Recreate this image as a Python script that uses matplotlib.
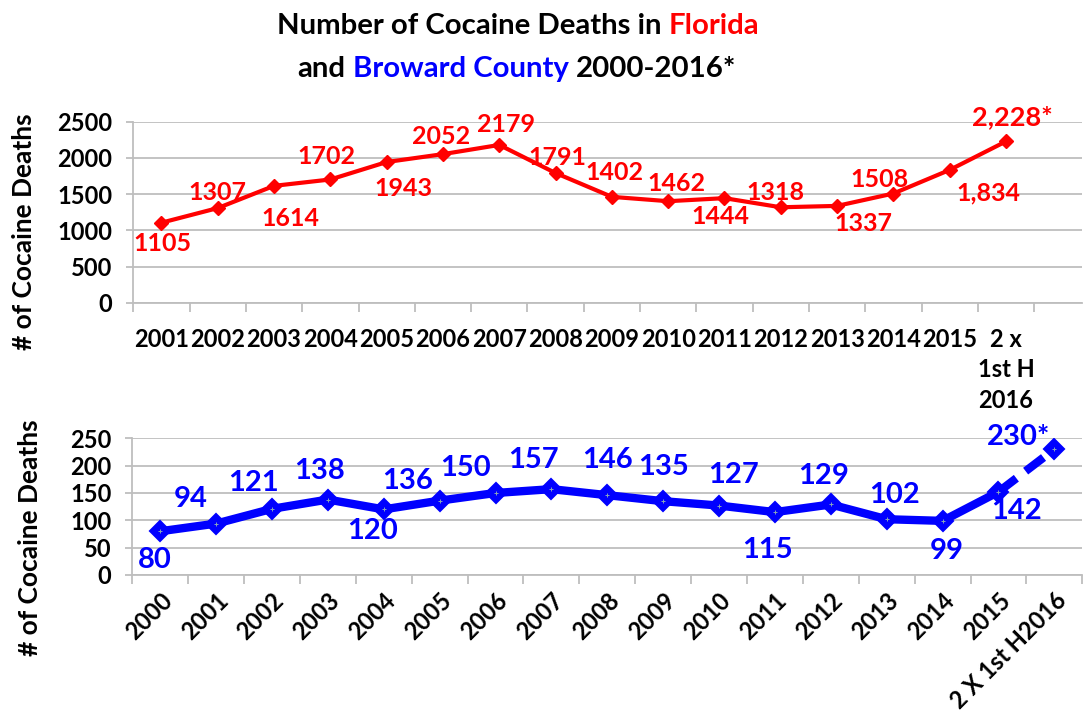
import matplotlib
matplotlib.use('Agg')
import matplotlib.pyplot as plt
import numpy as np

plt.rcParams['font.family'] = ['Lato', 'DejaVu Sans']
plt.rcParams['font.weight'] = 'bold'

# ---------------- data ----------------
fl_categories = ['2001', '2002', '2003', '2004', '2005', '2006', '2007', '2008',
                 '2009', '2010', '2011', '2012', '2013', '2014', '2015', '2 x\n1st H\n2016']
fl_values = [1105, 1307, 1614, 1702, 1943, 2052, 2179, 1791,
             1462, 1402, 1444, 1318, 1337, 1508, 1834, 2228]
fl_labels = ['1105', '1307', '1614', '1702', '1943', '2052', '2179', '1791',
             '1402', '1462', '1444', '1318', '1337', '1508', '1,834', '2,228*']

bw_categories = ['2000', '2001', '2002', '2003', '2004', '2005', '2006', '2007', '2008',
                 '2009', '2010', '2011', '2012', '2013', '2014', '2015', '2 X 1st H2016']
bw_values = [80, 94, 121, 138, 120, 136, 150, 157, 146, 135, 127, 115, 129, 102, 99, 152, 230]
bw_labels = ['80', '94', '121', '138', '120', '136', '150', '157', '146', '135', '127',
             '115', '129', '102', '99', '142', '230*']

# label offsets in pixels (dx, dy) relative to the point
fl_offsets = [(1, -21), (0, 16), (16, -33), (-4, 23), (17, -26), (-2, 18), (7, 20), (2, 16),
              (3, 24), (8, 18), (-4, -18), (-5, 15), (26, -18), (-14, 14), (39, -23), (6, 24)]
bw_offsets = [(-5, -29), (-25, 25), (-18, 26), (-8, 29), (-11, -22), (-32, 20), (-30, 25),
              (-18, 29), (0, 35), (0, 34), (14, 31), (-7, -38), (-7, 28), (8, 24), (4, -30),
              (18, -19), (-36, 12)]

RED = '#FF0000'
BLUE = '#0000FF'
GRID = '#BEBEBE'
W, H = 1084, 715
TICK_FS = 17

fig = plt.figure(figsize=(W / 100, H / 100), dpi=100)
ax1 = fig.add_axes([133.3 / W, 1 - 302.7 / H, (1082 - 133.3) / W, (302.7 - 121.7) / H])
ax2 = fig.add_axes([132.3 / W, 1 - 575 / H, (1082.3 - 132.3) / W, (575 - 438.3) / H])


def style(ax, n, ymax, step, xmax):
    ax.set_ylim(0, ymax)
    ax.set_yticks(np.arange(0, ymax + 1, step))
    ax.set_xlim(-0.5, xmax)
    ax.grid(axis='y', color=GRID, lw=1.3)
    ax.set_axisbelow(True)
    for s in ['top', 'right']:
        ax.spines[s].set_visible(False)
    for s in ['left', 'bottom']:
        ax.spines[s].set_color(GRID)
        ax.spines[s].set_linewidth(1.3)
    ax.tick_params(axis='y', length=5, color=GRID, width=1.3, pad=10,
                   labelsize=TICK_FS, labelcolor='black')
    ax.set_xticks(np.arange(-0.5, n, 1), minor=True)
    ax.tick_params(axis='x', which='minor', length=6.5, color=GRID, width=1.3)
    ax.tick_params(axis='x', which='major', length=0, labelsize=TICK_FS, labelcolor='black')


# ---------------- top: Florida ----------------
x1 = np.arange(len(fl_values))
style(ax1, len(fl_values), 2500, 500, 16.35)
ax1.plot(x1, fl_values, color=RED, lw=3, marker='D', ms=7.3, mew=1, mec=RED, zorder=3)
ax1.set_xticks(x1)
ax1.set_xticklabels(fl_categories, linespacing=1.4, va='top')
ax1.tick_params(axis='x', which='major', pad=18)
for i, (v, lab, off) in enumerate(zip(fl_values, fl_labels, fl_offsets)):
    size = 19.5 if i == len(fl_values) - 1 else 18
    ax1.annotate(lab, xy=(i, v), xytext=off, textcoords='offset pixels',
                 ha='center', va='center', color=RED, fontsize=size, fontweight='bold',
                 zorder=5)

# ---------------- bottom: Broward ----------------
x2 = np.arange(len(bw_values))
style(ax2, len(bw_values), 250, 50, 16.5)
ax2.plot(x2[:16], bw_values[:16], color=BLUE, lw=6, zorder=3, solid_joinstyle='round')
ax2.plot(x2[15:], bw_values[15:], color=BLUE, lw=6, ls=(0, (2.7, 1.4)), zorder=3)
ax2.plot(x2, bw_values, ls='none', marker='D', ms=10.5, mew=1.5, color=BLUE, mec=BLUE, zorder=4)
ax2.plot(x2, bw_values, ls='none', marker='+', ms=3, mew=0.7, color='#8aa6b8', zorder=5)
ax2.set_xticks(x2)
ax2.set_xticklabels(bw_categories, rotation=45, ha='right', va='top', rotation_mode='anchor')
ax2.tick_params(axis='x', which='major', pad=10)
for i, (v, lab, off) in enumerate(zip(bw_values, bw_labels, bw_offsets)):
    ax2.annotate(lab, xy=(i, v), xytext=off, textcoords='offset pixels',
                 ha='center', va='center', color=BLUE, fontsize=21, fontweight='bold',
                 zorder=6)

# ---------------- y labels ----------------
fig.text(24 / W, 1 - 232 / H, '# of Cocaine Deaths', rotation=90, ha='center', va='center',
         fontsize=19, fontweight='bold', color='black')
fig.text(30 / W, 1 - 538 / H, '# of Cocaine Deaths', rotation=90, ha='center', va='center',
         fontsize=19, fontweight='bold', color='black')

# ---------------- title (multi-coloured) ----------------
renderer = fig.canvas.get_renderer()


def colored_line(parts, yc, xc, size):
    probe1 = fig.text(0, 0, 'x x', fontsize=size, fontweight='bold')
    probe2 = fig.text(0, 0, 'xx', fontsize=size, fontweight='bold')
    space = probe1.get_window_extent(renderer).width - probe2.get_window_extent(renderer).width
    probe1.remove()
    probe2.remove()
    texts = []
    for s, c in parts:
        t = fig.text(0, yc / H, s, color=c, fontsize=size, fontweight='bold',
                     ha='left', va='center')
        texts.append(t)
    widths = [t.get_window_extent(renderer).width for t in texts]
    total = sum(widths) + space * (len(parts) - 1)
    x = xc - total / 2
    for t, w in zip(texts, widths):
        t.set_x(x / W)
        x += w + space


colored_line([('Number of Cocaine Deaths in', 'black'), ('Florida', RED)], H - 26, 518, 21.2)
colored_line([('and', 'black'), ('Broward County', BLUE), ('2000-2016*', 'black')], H - 69, 517, 21.2)

fig.savefig('out.png', dpi=100)
